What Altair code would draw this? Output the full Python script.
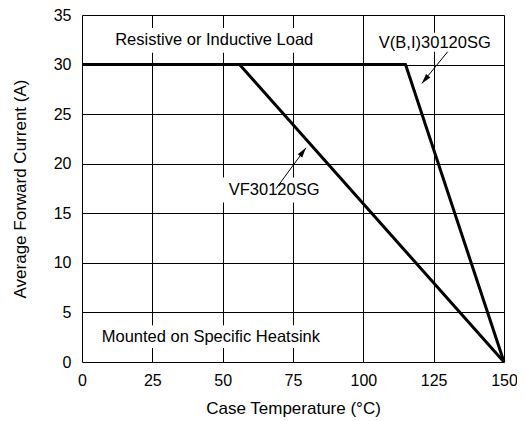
import altair as alt
import pandas as pd

# Derating curves
vf_x = [0, 56, 150]
vf_y = [30, 30, 0]
vbi_x = [0, 115, 150]
vbi_y = [30, 30, 0]

# Annotation texts
labels = ["Resistive or Inductive Load", "V(B,I)30120SG", "Mounted on Specific Heatsink", "VF30120SG"]
label_x = [47, 125.4, 45.8, 68.3]
label_y = [32.5, 32.2, 2.5, 17.3]
# white boxes behind the texts (hide grid)
box_x1 = [12, 105, 7, 49.6]
box_x2 = [82.4, 144.7, 84.9, 86.6]
box_y1 = [31.2, 31.3, 1.4, 16.1]
box_y2 = [33.7, 33.2, 3.7, 18.6]

# arrows
arr_x1 = [69, 130]
arr_y1 = [17.5, 31.3]
arr_x2 = [79.6, 120.8]
arr_y2 = [21.6, 28.1]
arr_angle = [36.6, 219.5]

x_ticks = [0, 25, 50, 75, 100, 125, 150]
y_ticks = [0, 5, 10, 15, 20, 25, 30, 35]

FONT = "Liberation Sans"

lines_df = pd.DataFrame({
    "x": vf_x + vbi_x,
    "y": vf_y + vbi_y,
    "s": ["VF"] * len(vf_x) + ["VBI"] * len(vbi_x),
})
lab_df = pd.DataFrame({"t": labels, "x": label_x, "y": label_y,
                       "x1": box_x1, "x2": box_x2, "y1": box_y1, "y2": box_y2})
arr_df = pd.DataFrame({"x1": arr_x1, "y1": arr_y1, "x2": arr_x2, "y2": arr_y2, "a": arr_angle})

xs = alt.Scale(domain=[0, 150], nice=False)
ys = alt.Scale(domain=[0, 35], nice=False)

xax = alt.Axis(values=x_ticks, title="Case Temperature (°C)", grid=True, gridColor="black",
               gridOpacity=1, gridWidth=1, ticks=False, domain=False, labelPadding=10,
               labelFlush=False,
               labelFontSize=16, labelFont=FONT, labelColor="black",
               titleFont=FONT, titleFontSize=17, titleFontWeight="normal", titleColor="black",
               titlePadding=12)
yax = alt.Axis(values=y_ticks, title="Average Forward Current (A)", grid=True, gridColor="black",
               gridOpacity=1, gridWidth=1, ticks=False, domain=False, labelPadding=11,
               labelFlush=False,
               labelFontSize=16, labelFont=FONT, labelColor="black",
               titleFont=FONT, titleFontSize=17, titleFontWeight="normal", titleColor="black",
               titlePadding=24)

base = alt.Chart(lines_df).mark_line(color="black", strokeWidth=3).encode(
    x=alt.X("x:Q", scale=xs, axis=xax),
    y=alt.Y("y:Q", scale=ys, axis=yax),
    detail="s:N",
)

boxes = alt.Chart(lab_df).mark_rect(color="white").encode(
    x=alt.X("x1:Q", scale=xs), x2="x2:Q",
    y=alt.Y("y1:Q", scale=ys), y2="y2:Q",
)

texts = alt.Chart(lab_df).mark_text(font=FONT, fontSize=16.5, color="black").encode(
    x=alt.X("x:Q", scale=xs), y=alt.Y("y:Q", scale=ys), text="t:N"
)

arr_lines = alt.Chart(arr_df).mark_rule(color="black", strokeWidth=1).encode(
    x=alt.X("x1:Q", scale=xs), y=alt.Y("y1:Q", scale=ys), x2="x2:Q", y2="y2:Q"
)
arr_heads = alt.Chart(arr_df).mark_point(
    shape="M0,0L0.28,1L-0.28,1Z", filled=True, color="black", opacity=1, size=400, strokeWidth=0
).encode(
    x=alt.X("x2:Q", scale=xs), y=alt.Y("y2:Q", scale=ys), angle=alt.Angle("a:Q", scale=None)
)

chart = alt.layer(boxes, base, texts, arr_lines, arr_heads).properties(
    width=422, height=347,
    autosize=alt.AutoSizeParams(type="none"),
    padding={"left": 74, "top": 7, "right": 13, "bottom": 58},
).configure_view(stroke="black", strokeWidth=3).configure(background="white")

chart.save("out.html", embed_options={"renderer": "svg", "actions": False})
